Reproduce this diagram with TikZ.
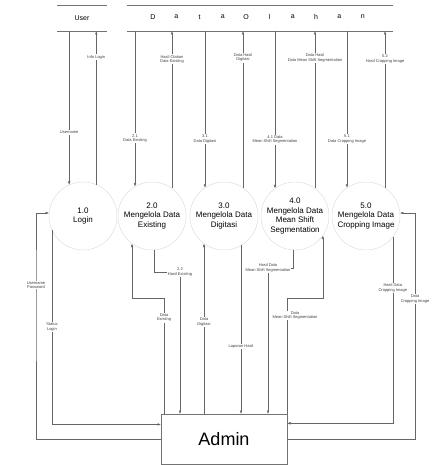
\documentclass[tikz,border=0pt]{standalone}
\usepackage{fontspec}
\setmainfont{Liberation Sans}
\usetikzlibrary{arrows.meta}

\begin{document}
\begin{tikzpicture}[x=1pt, y=-1pt, >={Latex[length=3.5pt,width=2.6pt]},
  proc/.style={circle, draw=black!15, minimum size=68pt, inner sep=0pt, outer sep=0pt, align=center, font=\fontsize{8}{9.5}\selectfont},
  entity/.style={minimum width=50pt, minimum height=26pt, inner sep=0pt, outer sep=0pt, font=\fontsize{7}{8}\selectfont},
  datastore/.style={minimum width=266pt, minimum height=26pt, inner sep=0pt, outer sep=0pt},
  rim/.style={draw=black!55, line width=0.5pt},
  flow/.style={->, draw=black!60, line width=0.5pt},
  lbl/.style={fill=white, inner sep=0.8pt, align=center, text=black!75, font=\fontsize{4}{4.6}\selectfont}]

\useasboundingbox (0,0) rectangle (433,465);

\node(user)[entity] at (82,18){User};
\node(store)[datastore] at (260,18){};
\foreach \ch [count=\i from 0] in {D,a,t,a,O,l,a,h,a,n}
  \node(s\i)[font=\fontsize{7}{8}\selectfont] at (153+23.3*\i,17){\ch};
\draw[rim] (user.north west) -- (user.north east) (user.south west) -- (user.south east);
\draw[rim] (store.north west) -- (store.north east) (store.south west) -- (store.south east);

\node(p1)[proc] at (83,216){1.0\\Login};
\node(p2)[proc] at (152,216){2.0\\Mengelola Data\\Existing};
\node(p3)[proc] at (224,216){3.0\\Mengelola Data\\Digitasi};
\node(p4)[proc] at (295,216){4.0\\Mengelola Data\\Mean Shift\\Segmentation};
\node(p5)[proc] at (366,216){5.0\\Mengelola Data\\Cropping Image};

\node(admin)[draw=black!55, minimum width=126pt, minimum height=50pt, inner sep=0pt, outer sep=0pt, font=\fontsize{18}{20}\selectfont] at (224,439){Admin};

\draw[flow] (user.south -| p1.114) -- node[lbl,pos=0.66]{Username} (p1.114);
\draw[flow] (p1.67) -- node[lbl,pos=0.83]{Info Login} (user.south -| p1.67);
\draw[flow] (store.south -| p2.120) -- node[lbl,pos=0.69]{2.1\\Data Existing} (p2.120);
\draw[flow] (p2.54) -- node[lbl,pos=0.82]{Hasil Olahan\\Data Existing} (store.south -| p2.54);
\draw[flow] (store.south -| p3.124) -- node[lbl,pos=0.69]{3.1\\Data Digitasi} (p3.124);
\draw[flow] (p3.56) -- node[lbl,pos=0.83]{Data Hasil\\Digitasi} (store.south -| p3.56);
\draw[flow] (store.south -| p4.126) -- node[lbl,pos=0.69]{4.1 Data\\Mean Shift Segmentation} (p4.126);
\draw[flow] (p4.54) -- node[lbl,pos=0.83]{Data Hasil\\Data Mean Shift Segmentation} (store.south -| p4.54);
\draw[flow] (store.south -| p5.124) -- node[lbl,pos=0.69]{5.1\\Data Cropping Image} (p5.124);
\draw[flow] (p5.56) -- node[lbl,pos=0.82]{5.2\\Hasil Cropping Image} (store.south -| p5.56);

\draw[flow] (admin.west) -- ++(-125,0) -- ++(0,-154) node[lbl]{Username\\Password} |- (p1.175);
\draw[flow] (p1.204) |- node[lbl,pos=0.25]{Status\\Login} (admin.167);
\draw[flow] ([xshift=3pt]admin.north west) -- node[lbl,pos=0.83]{Data\\Existing} ++(0,-116) -| (p2.234);
\draw[flow] (p2.273) -- ++(0,22) -| node[lbl,pos=0.5]{2.2\\Hasil Existing} ([xshift=19pt]admin.north west);
\draw[flow] (admin.north -| p3.234) -- node[lbl,pos=0.54]{Data\\Digitasi} (p3.234);
\draw[flow] (p3.300) -- node[lbl,pos=0.6]{Laporan Hasil} (admin.north -| p3.300);
\draw[flow] (p4.267) -- ++(0,18) -| node[lbl,pos=0.5]{Hasil Data\\Mean Shift Segmentation} ([xshift=107pt]admin.north west);
\draw[flow] (admin.north east) -- node[lbl,pos=0.85,xshift=8pt]{Data\\Mean Shift Segmentation} ++(0,-116) -| (p4.325);
\draw[flow] (p5.322) |- node[lbl,pos=0.137]{Hasil Data\\Cropping Image} (admin.14);
\draw[flow] (admin.east) -- ++(128,0) |- node[lbl,pos=0.31]{Data\\Cropping Image} (p5.5);
\end{tikzpicture}
\end{document}
